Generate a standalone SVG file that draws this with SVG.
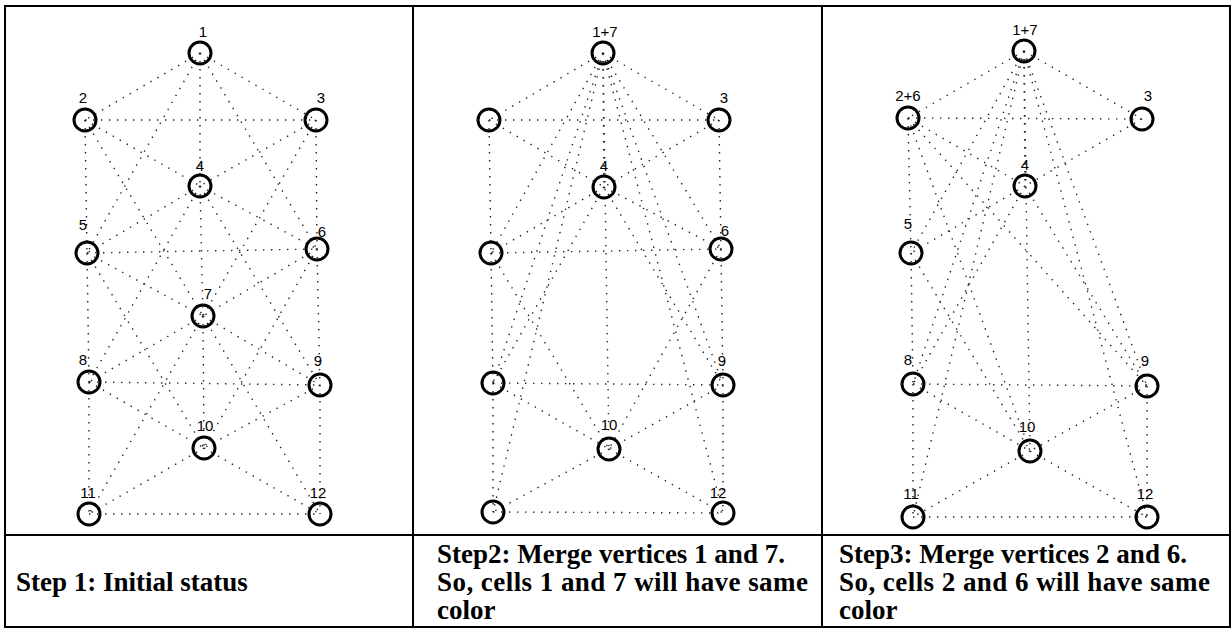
<svg xmlns="http://www.w3.org/2000/svg" width="1232" height="630" viewBox="0 0 1232 630">
<style>
.e{stroke:#222;stroke-width:1.4;stroke-dasharray:1.4 6.6;fill:none}
.n{fill:none;stroke:#000;stroke-width:3}
.l{font-family:"Liberation Sans",Arial,sans-serif;font-size:15px;text-anchor:middle;fill:#000}
.t{font-family:"Liberation Serif","Times New Roman",serif;font-size:27px;font-weight:bold;fill:#000}
.g{stroke:#000;stroke-width:2;fill:none}
</style>
<rect width="1232" height="630" fill="#fff"/>
<g id="table">
<rect class="g" x="5" y="6" width="1225" height="621"/>
<line class="g" x1="413" y1="6" x2="413" y2="627"/>
<line class="g" x1="822" y1="6" x2="822" y2="627"/>
<line class="g" x1="5" y1="535" x2="1230" y2="535"/>
</g>
<g id="connectors">
<g id="edges-step1">
<line class="e" x1="200" y1="53" x2="85" y2="120"/>
<line class="e" x1="200" y1="53" x2="316" y2="120"/>
<line class="e" x1="200" y1="53" x2="200" y2="186"/>
<line class="e" x1="200" y1="53" x2="87" y2="253"/>
<line class="e" x1="200" y1="53" x2="317" y2="249"/>
<line class="e" x1="85" y1="120" x2="316" y2="120"/>
<line class="e" x1="85" y1="120" x2="200" y2="186"/>
<line class="e" x1="85" y1="120" x2="87" y2="253"/>
<line class="e" x1="85" y1="120" x2="203" y2="316"/>
<line class="e" x1="316" y1="120" x2="200" y2="186"/>
<line class="e" x1="316" y1="120" x2="317" y2="249"/>
<line class="e" x1="316" y1="120" x2="203" y2="316"/>
<line class="e" x1="200" y1="186" x2="87" y2="253"/>
<line class="e" x1="200" y1="186" x2="317" y2="249"/>
<line class="e" x1="200" y1="186" x2="203" y2="316"/>
<line class="e" x1="200" y1="186" x2="89" y2="382"/>
<line class="e" x1="200" y1="186" x2="320" y2="385"/>
<line class="e" x1="87" y1="253" x2="317" y2="249"/>
<line class="e" x1="87" y1="253" x2="203" y2="316"/>
<line class="e" x1="87" y1="253" x2="89" y2="382"/>
<line class="e" x1="87" y1="253" x2="204" y2="448"/>
<line class="e" x1="317" y1="249" x2="203" y2="316"/>
<line class="e" x1="317" y1="249" x2="320" y2="385"/>
<line class="e" x1="317" y1="249" x2="204" y2="448"/>
<line class="e" x1="203" y1="316" x2="89" y2="382"/>
<line class="e" x1="203" y1="316" x2="320" y2="385"/>
<line class="e" x1="203" y1="316" x2="204" y2="448"/>
<line class="e" x1="203" y1="316" x2="89" y2="514"/>
<line class="e" x1="203" y1="316" x2="320" y2="514"/>
<line class="e" x1="89" y1="382" x2="320" y2="385"/>
<line class="e" x1="89" y1="382" x2="204" y2="448"/>
<line class="e" x1="89" y1="382" x2="89" y2="514"/>
<line class="e" x1="320" y1="385" x2="204" y2="448"/>
<line class="e" x1="320" y1="385" x2="320" y2="514"/>
<line class="e" x1="204" y1="448" x2="89" y2="514"/>
<line class="e" x1="204" y1="448" x2="320" y2="514"/>
<line class="e" x1="89" y1="514" x2="320" y2="514"/>
</g>
<g id="edges-step2">
<line class="e" x1="603" y1="53" x2="489" y2="120"/>
<line class="e" x1="603" y1="53" x2="719" y2="120"/>
<line class="e" x1="603" y1="53" x2="604" y2="187"/>
<line class="e" x1="603" y1="53" x2="491" y2="253"/>
<line class="e" x1="603" y1="53" x2="721" y2="249"/>
<line class="e" x1="603" y1="53" x2="493" y2="383"/>
<line class="e" x1="603" y1="53" x2="723" y2="385"/>
<line class="e" x1="603" y1="53" x2="609" y2="449"/>
<line class="e" x1="603" y1="53" x2="493" y2="512"/>
<line class="e" x1="603" y1="53" x2="723" y2="513"/>
<line class="e" x1="489" y1="120" x2="719" y2="120"/>
<line class="e" x1="489" y1="120" x2="604" y2="187"/>
<line class="e" x1="489" y1="120" x2="491" y2="253"/>
<line class="e" x1="719" y1="120" x2="604" y2="187"/>
<line class="e" x1="719" y1="120" x2="721" y2="249"/>
<line class="e" x1="604" y1="187" x2="491" y2="253"/>
<line class="e" x1="604" y1="187" x2="721" y2="249"/>
<line class="e" x1="604" y1="187" x2="493" y2="383"/>
<line class="e" x1="604" y1="187" x2="723" y2="385"/>
<line class="e" x1="491" y1="253" x2="721" y2="249"/>
<line class="e" x1="491" y1="253" x2="493" y2="383"/>
<line class="e" x1="491" y1="253" x2="609" y2="449"/>
<line class="e" x1="721" y1="249" x2="723" y2="385"/>
<line class="e" x1="721" y1="249" x2="609" y2="449"/>
<line class="e" x1="493" y1="383" x2="723" y2="385"/>
<line class="e" x1="493" y1="383" x2="609" y2="449"/>
<line class="e" x1="493" y1="383" x2="493" y2="512"/>
<line class="e" x1="723" y1="385" x2="609" y2="449"/>
<line class="e" x1="723" y1="385" x2="723" y2="513"/>
<line class="e" x1="609" y1="449" x2="493" y2="512"/>
<line class="e" x1="609" y1="449" x2="723" y2="513"/>
<line class="e" x1="493" y1="512" x2="723" y2="513"/>
</g>
<g id="edges-step3">
<line class="e" x1="1024" y1="51" x2="908" y2="118"/>
<line class="e" x1="1024" y1="51" x2="1142" y2="119"/>
<line class="e" x1="1024" y1="51" x2="1025" y2="186"/>
<line class="e" x1="1024" y1="51" x2="911" y2="253"/>
<line class="e" x1="1024" y1="51" x2="913" y2="384"/>
<line class="e" x1="1024" y1="51" x2="1147" y2="386"/>
<line class="e" x1="1024" y1="51" x2="1030" y2="451"/>
<line class="e" x1="1024" y1="51" x2="913" y2="517"/>
<line class="e" x1="1024" y1="51" x2="1147" y2="517"/>
<line class="e" x1="908" y1="118" x2="1142" y2="119"/>
<line class="e" x1="908" y1="118" x2="1025" y2="186"/>
<line class="e" x1="908" y1="118" x2="911" y2="253"/>
<line class="e" x1="908" y1="118" x2="1147" y2="386"/>
<line class="e" x1="908" y1="118" x2="1030" y2="451"/>
<line class="e" x1="1142" y1="119" x2="1025" y2="186"/>
<line class="e" x1="1025" y1="186" x2="911" y2="253"/>
<line class="e" x1="1025" y1="186" x2="913" y2="384"/>
<line class="e" x1="1025" y1="186" x2="1147" y2="386"/>
<line class="e" x1="911" y1="253" x2="913" y2="384"/>
<line class="e" x1="911" y1="253" x2="1030" y2="451"/>
<line class="e" x1="913" y1="384" x2="1147" y2="386"/>
<line class="e" x1="913" y1="384" x2="1030" y2="451"/>
<line class="e" x1="913" y1="384" x2="913" y2="517"/>
<line class="e" x1="1147" y1="386" x2="1030" y2="451"/>
<line class="e" x1="1147" y1="386" x2="1147" y2="517"/>
<line class="e" x1="1030" y1="451" x2="913" y2="517"/>
<line class="e" x1="1030" y1="451" x2="1147" y2="517"/>
<line class="e" x1="913" y1="517" x2="1147" y2="517"/>
</g>
</g>
<g id="step1-nodes">
<g id="s1-n1"><circle class="n" cx="200" cy="53" r="11"/><text class="l" x="203" y="37">1</text></g>
<g id="s1-n2"><circle class="n" cx="85" cy="120" r="11"/><text class="l" x="83" y="103">2</text></g>
<g id="s1-n3"><circle class="n" cx="316" cy="120" r="11"/><text class="l" x="321" y="103">3</text></g>
<g id="s1-n4"><circle class="n" cx="200" cy="186" r="11"/><text class="l" x="200" y="171">4</text></g>
<g id="s1-n5"><circle class="n" cx="87" cy="253" r="11"/><text class="l" x="83" y="230">5</text></g>
<g id="s1-n6"><circle class="n" cx="317" cy="249" r="11"/><text class="l" x="322" y="237">6</text></g>
<g id="s1-n7"><circle class="n" cx="203" cy="316" r="11"/><text class="l" x="208" y="299">7</text></g>
<g id="s1-n8"><circle class="n" cx="89" cy="382" r="11"/><text class="l" x="83" y="365">8</text></g>
<g id="s1-n9"><circle class="n" cx="320" cy="385" r="11"/><text class="l" x="318" y="366">9</text></g>
<g id="s1-n10"><circle class="n" cx="204" cy="448" r="11"/><text class="l" x="205" y="431">10</text></g>
<g id="s1-n11"><circle class="n" cx="89" cy="514" r="11"/><text class="l" x="88" y="498">11</text></g>
<g id="s1-n12"><circle class="n" cx="320" cy="514" r="11"/><text class="l" x="318" y="498">12</text></g>
</g>
<g id="step2-nodes">
<g id="s2-n1-7"><circle class="n" cx="603" cy="53" r="11"/><text class="l" x="605" y="37">1+7</text></g>
<g id="s2-n2"><circle class="n" cx="489" cy="120" r="11"/></g>
<g id="s2-n3"><circle class="n" cx="719" cy="120" r="11"/><text class="l" x="724" y="103">3</text></g>
<g id="s2-n4"><circle class="n" cx="604" cy="187" r="11"/><text class="l" x="604" y="171">4</text></g>
<g id="s2-n5"><circle class="n" cx="491" cy="253" r="11"/></g>
<g id="s2-n6"><circle class="n" cx="721" cy="249" r="11"/><text class="l" x="725" y="236">6</text></g>
<g id="s2-n8"><circle class="n" cx="493" cy="383" r="11"/></g>
<g id="s2-n9"><circle class="n" cx="723" cy="385" r="11"/><text class="l" x="722" y="366">9</text></g>
<g id="s2-n10"><circle class="n" cx="609" cy="449" r="11"/><text class="l" x="609" y="430">10</text></g>
<g id="s2-n11"><circle class="n" cx="493" cy="512" r="11"/></g>
<g id="s2-n12"><circle class="n" cx="723" cy="513" r="11"/><text class="l" x="718" y="498">12</text></g>
</g>
<g id="step3-nodes">
<g id="s3-n1-7"><circle class="n" cx="1024" cy="51" r="11"/><text class="l" x="1025" y="35">1+7</text></g>
<g id="s3-n2-6"><circle class="n" cx="908" cy="118" r="11"/><text class="l" x="908" y="101">2+6</text></g>
<g id="s3-n3"><circle class="n" cx="1142" cy="119" r="11"/><text class="l" x="1148" y="101">3</text></g>
<g id="s3-n4"><circle class="n" cx="1025" cy="186" r="11"/><text class="l" x="1025" y="170">4</text></g>
<g id="s3-n5"><circle class="n" cx="911" cy="253" r="11"/><text class="l" x="908" y="229">5</text></g>
<g id="s3-n8"><circle class="n" cx="913" cy="384" r="11"/><text class="l" x="908" y="365">8</text></g>
<g id="s3-n9"><circle class="n" cx="1147" cy="386" r="11"/><text class="l" x="1145" y="366">9</text></g>
<g id="s3-n10"><circle class="n" cx="1030" cy="451" r="11"/><text class="l" x="1027" y="432">10</text></g>
<g id="s3-n11"><circle class="n" cx="913" cy="517" r="11"/><text class="l" x="911" y="499">11</text></g>
<g id="s3-n12"><circle class="n" cx="1147" cy="517" r="11"/><text class="l" x="1145" y="499">12</text></g>
</g>
<g id="captions">
<text class="t" x="16" y="591">Step 1: Initial status</text>
<text class="t" x="437" y="563">Step2: Merge vertices 1 and 7.</text>
<text class="t" x="437" y="591" textLength="371" lengthAdjust="spacing">So, cells 1 and 7 will have same</text>
<text class="t" x="437" y="619">color</text>
<text class="t" x="839" y="563">Step3: Merge vertices 2 and 6.</text>
<text class="t" x="839" y="591" textLength="371" lengthAdjust="spacing">So, cells 2 and 6 will have same</text>
<text class="t" x="839" y="619">color</text>
</g>
</svg>
